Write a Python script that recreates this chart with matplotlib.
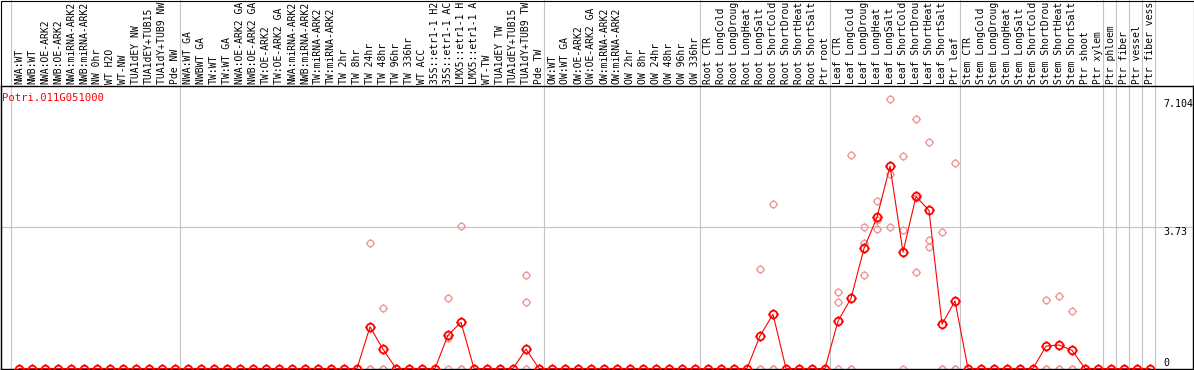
import numpy as np
import matplotlib
matplotlib.use("Agg")
import matplotlib.pyplot as plt
from matplotlib.path import Path
from matplotlib.patches import Rectangle
from matplotlib.transforms import blended_transform_factory


gene = "Potri.011G051000"

# sample names as printed (the chart cuts them at 14 characters)
samples = [
    # NW
    "NWA:WT", "NWB:WT", "NWA:OE-ARK2", "NWB:OE-ARK2", "NWA:miRNA-ARK2",
    "NWB:miRNA-ARK2", "NW 0hr", "WT H2O", "WT-NW", "TUA1dEY NW",
    "TUA1dEY+TUB15", "TUA1dY+TUB9 NW", "Pde NW",
    # TW
    "NWA:WT GA", "NWBWT GA", "TW:WT", "TW:WT GA", "NWA:OE-ARK2 GA",
    "NWB:OE-ARK2 GA", "TW:OE-ARK2", "TW:OE-ARK2 GA", "NWA:miRNA-ARK2",
    "NWB:miRNA-ARK2", "TW:miRNA-ARK2", "TW:miRNA-ARK2", "TW 2hr",
    "TW 8hr", "TW 24hr", "TW 48hr", "TW 96hr", "TW 336hr", "WT ACC",
    "35S::etr1-1 H2", "35S::etr1-1 AC", "LMX5::etr1-1 H",
    "LMX5::etr1-1 A", "WT-TW", "TUA1dEY TW", "TUA1dEY+TUB15",
    "TUA1dY+TUB9 TW", "Pde TW",
    # OW
    "OW:WT", "OW:WT GA", "OW:OE-ARK2", "OW:OE-ARK2 GA", "OW:miRNA-ARK2",
    "OW:miRNA-ARK2", "OW 2hr", "OW 8hr", "OW 24hr", "OW 48hr",
    "OW 96hr", "OW 336hr",
    # root
    "Root CTR", "Root LongCold", "Root LongDroug", "Root LongHeat",
    "Root LongSalt", "Root ShortCold", "Root ShortDrou",
    "Root ShortHeat", "Root ShortSalt", "Ptr root",
    # leaf
    "Leaf CTR", "Leaf LongCold", "Leaf LongDroug", "Leaf LongHeat",
    "Leaf LongSalt", "Leaf ShortCold", "Leaf ShortDrou",
    "Leaf ShortHeat", "Leaf ShortSalt", "Ptr leaf",
    # stem
    "Stem CTR", "Stem LongCold", "Stem LongDroug", "Stem LongHeat",
    "Stem LongSalt", "Stem ShortCold", "Stem ShortDrou",
    "Stem ShortHeat", "Stem ShortSalt", "Ptr shoot", "Ptr xylem",
    # wood tissues
    "Ptr phloem", "Ptr fiber", "Ptr vessel", "Ptr fiber vess",
]

group_sizes = [13, 28, 12, 10, 10, 11, 1, 1, 1, 1]

mean_values = [
    0, 0, 0, 0, 0, 0, 0, 0, 0, 0, 0, 0, 0,
    0, 0, 0, 0, 0, 0, 0, 0, 0, 0, 0, 0, 0, 0,
    1.10, 0.51, 0, 0, 0, 0, 0.88, 1.22, 0, 0, 0, 0, 0.51, 0,
    0, 0, 0, 0, 0, 0, 0, 0, 0, 0, 0, 0,
    0, 0, 0, 0, 0.86, 1.43, 0, 0, 0, 0,
    1.25, 1.85, 3.17, 3.99, 5.34, 3.07, 4.54, 4.17, 1.17, 1.78,
    0, 0, 0, 0, 0, 0, 0.59, 0.62, 0.48, 0, 0,
    0, 0, 0, 0,
]

# replicate values for samples with any expression
replicates = {
    "TW 24hr": [3.30, 0, 0],
    "TW 48hr": [1.59, 0, 0],
    "35S::etr1-1 AC": [1.85, 0.80, 0],
    "LMX5::etr1-1 H": [3.76, 0, 0],
    "TUA1dY+TUB9 TW": [2.46, 1.75, 0],
    "Root LongSalt": [2.62, 0, 0],
    "Root ShortCold": [4.33, 0, 0],
    "Leaf CTR": [2.02, 1.75, 0],
    "Leaf LongCold": [5.63, 0, 0],
    "Leaf LongDroug": [3.73, 3.32, 2.46],
    "Leaf LongHeat": [4.42, 3.91, 3.68],
    "Leaf LongSalt": [7.104, 5.13, 3.73],
    "Leaf ShortCold": [5.61, 3.65, 0],
    "Leaf ShortDrou": [6.58, 4.50, 2.54],
    "Leaf ShortHeat": [5.97, 3.38, 3.21],
    "Leaf ShortSalt": [3.59, 0, 0],
    "Ptr leaf": [5.41, 0, 0],
    "Stem ShortDrou": [1.80, 0, 0],
    "Stem ShortHeat": [1.91, 0, 0],
    "Stem ShortSalt": [1.52, 0, 0],
}

y_ticks = [7.104, 3.73, 0]
y_tick_labels = ["7.104", "3.73", "0"]

assert len(samples) == len(mean_values) == sum(group_sizes)

W, H = 1194, 370
fig = plt.figure(figsize=(W / 100, H / 100), dpi=100)

# plot area in pixels
left_px, right_px, top_px, bottom_px = 1, 1193, 86, 369
ax = fig.add_axes([
    left_px / W,
    (H - bottom_px) / H,
    (right_px - left_px) / W,
    (bottom_px - top_px) / H
])

x0_px, step_px = 19, 13
zero_px, px_per_unit = 368.5, 37.9
ax.set_xlim((left_px - x0_px) / step_px, (right_px - x0_px) / step_px)
ax.set_ylim((zero_px - bottom_px) / px_per_unit,
            (zero_px - top_px) / px_per_unit)
ax.set_xticks([])
ax.set_yticks([])
for spine in ax.spines.values():
    spine.set_color("black")
    spine.set_linewidth(1.0)

grey = "#c4c4c4"
mono = "DejaVu Sans Mono"

# group separators, run through the label area too
ends = np.cumsum([0] + group_sizes) - 1
ymax = bottom_px / (bottom_px - top_px)
for e in ends:
    ax.axvline(e + 0.38, ymin=0, ymax=ymax, color=grey,
               lw=0.8, clip_on=False, zorder=0)

ax.axhline(3.73, color=grey, lw=0.8, zorder=0)

# custom marker: open circle with four small ticks
circle = Path.unit_circle()
ticks = Path(
    [(0, 1), (0, 1.35), (0, -1), (0, -1.35),
     (1, 0), (1.35, 0), (-1, 0), (-1.35, 0)],
    [Path.MOVETO, Path.LINETO] * 4
)
marker = Path.make_compound_path(circle, ticks)

for name, vals in replicates.items():
    i = samples.index(name)
    ax.plot([i] * len(vals), vals, linestyle="none", marker=marker,
            ms=6.2, mfc="none", mec="#ee9a9a", mew=1.0, zorder=2)

x = np.arange(len(samples))
ax.plot(x, mean_values, color="red", lw=0.8, marker=marker, ms=7.4,
        mfc="none", mec="red", mew=1.3, zorder=3)

# vertical sample labels above the plot
label_trans = blended_transform_factory(ax.transData, fig.transFigure)
for i, name in enumerate(samples):
    ax.text(i, (H - 84.5) / H, name, rotation=90, ha="center",
            va="bottom", fontsize=7.0, family=mono,
            transform=label_trans, clip_on=False)

# value labels on the right
tick_trans = blended_transform_factory(fig.transFigure, ax.transData)
for v, lab in zip(y_ticks, y_tick_labels):
    ax.text(1163 / W, v, lab, ha="left",
            va="bottom" if v == 0 else "top",
            fontsize=7.2, family=mono, transform=tick_trans)

fig.text(2 / W, (H - 98) / H, gene, color="red", ha="left", va="center",
         fontsize=7.6, family=mono)

fig.add_artist(Rectangle((0.5 / W, 0.5 / H), (W - 1) / W, (H - 1) / H,
                         transform=fig.transFigure, fill=False,
                         ec="black", lw=0.8))

fig.savefig("out.png", dpi=100)
plt.close(fig)
